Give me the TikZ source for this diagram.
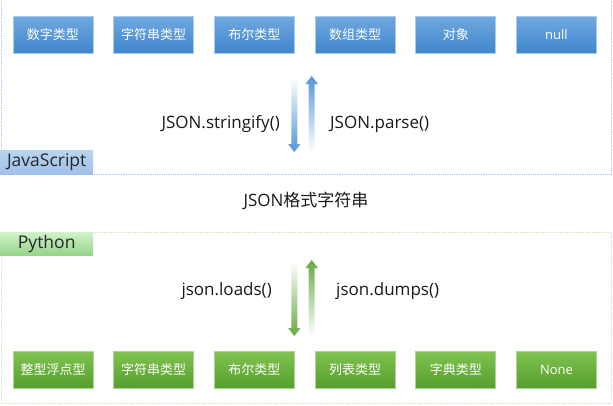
\documentclass[tikz,border=0pt]{standalone}
\usepackage{fontspec}
\setmainfont{Open Sans}
\newfontfamily\cjk{Noto Sans CJK SC}
\usetikzlibrary{positioning}

\definecolor{jstop}{HTML}{70A8DF}
\definecolor{jsbot}{HTML}{3F86CD}
\definecolor{jsline}{HTML}{A9CBEC}
\definecolor{jsframe}{HTML}{A7CAEA}
\definecolor{jsarrow}{HTML}{5596D6}
\definecolor{pytop}{HTML}{80C24F}
\definecolor{pybot}{HTML}{569E2D}
\definecolor{pyline}{HTML}{AED39A}
\definecolor{pyframe}{HTML}{CFE6BF}
\definecolor{pyarrow}{HTML}{68A944}

\begin{document}
\begin{tikzpicture}[x=1pt,y=-1pt,node distance=20pt,
    typebox/.style={minimum width=80pt,minimum height=37pt,inner sep=0pt,
      text=white,font=\fontsize{13}{15}\selectfont,line width=0.7pt},
    jsbox/.style={typebox,top color=jstop,bottom color=jsbot,draw=jsline},
    pybox/.style={typebox,top color=pytop,bottom color=pybot,draw=pyline},
    tag/.style={anchor=north west,minimum width=93pt,inner sep=0pt,
      text=black!85,font=\fontsize{17.5}{20}\selectfont},
    fn/.style={text=black!90,font=\fontsize{17}{20}\selectfont,inner sep=0pt}]
  \useasboundingbox (0,0) rectangle (613,405);

  % containers
  \draw[jsframe,densely dotted,line width=0.8pt] (1,-5) rectangle (611,174);
  \draw[pyframe,densely dotted,line width=0.8pt] (1,232) rectangle (611,403);
  \node (jstag) [tag,minimum height=24pt,top color=jsframe!80!white,bottom color=jsframe!95!blue] at (0,150) {JavaScript};
  \node (pytag) [tag,minimum height=23pt,top color=pyframe!85!green!60!white,bottom color=pyframe!80!green!90!black] at (0,232) {Python};

  % JavaScript types
  \node (num) [jsbox] at (53,35) {\cjk 数字类型};
  \node (str) [jsbox,right=of num] {\cjk 字符串类型};
  \node (bool) [jsbox,right=of str] {\cjk 布尔类型};
  \node (arr) [jsbox,right=of bool] {\cjk 数组类型};
  \node (obj) [jsbox,right=of arr] {\cjk 对象};
  \node (null) [jsbox,right=of obj] {null};

  % Python types
  \node (pnum) [pybox] at (53,370) {\cjk 整型浮点型};
  \node (pstr) [pybox,right=of pnum] {\cjk 字符串类型};
  \node (pbool) [pybox,right=of pstr] {\cjk 布尔类型};
  \node (plist) [pybox,right=of pbool] {\cjk 列表类型};
  \node (pdict) [pybox,right=of plist] {\cjk 字典类型};
  \node (pnone) [pybox,right=of pdict] {None};

  % conversion labels
  \node (stringify) [fn,anchor=east] at (280,124) {JSON.stringify()};
  \node (parse) [fn,anchor=west] at (330,124) {JSON.parse()};
  \node (jsonstr) [fn] at (306,201) {JSON{\cjk 格式字符串}};
  \node (loads) [fn,anchor=east] at (272,291) {json.loads()};
  \node (dumps) [fn,anchor=west] at (336,291) {json.dumps()};

  % fat arrows
  \shade[top color=white,bottom color=jsarrow] (291.3,77) -- (297.3,77) -- (297.3,144)
    -- (300.6,144) -- (294.3,152) -- (288,144) -- (291.3,144) -- cycle;
  \shade[top color=jsarrow,bottom color=white] (311.7,76) -- (318,84) -- (314.7,84)
    -- (314.7,152) -- (308.7,152) -- (308.7,84) -- (305.4,84) -- cycle;
  \shade[top color=white,bottom color=pyarrow] (291.3,261) -- (297.3,261) -- (297.3,328)
    -- (300.6,328) -- (294.3,336) -- (288,328) -- (291.3,328) -- cycle;
  \shade[top color=pyarrow,bottom color=white] (311.7,260) -- (318,268) -- (314.7,268)
    -- (314.7,336) -- (308.7,336) -- (308.7,268) -- (305.4,268) -- cycle;
\end{tikzpicture}
\end{document}
